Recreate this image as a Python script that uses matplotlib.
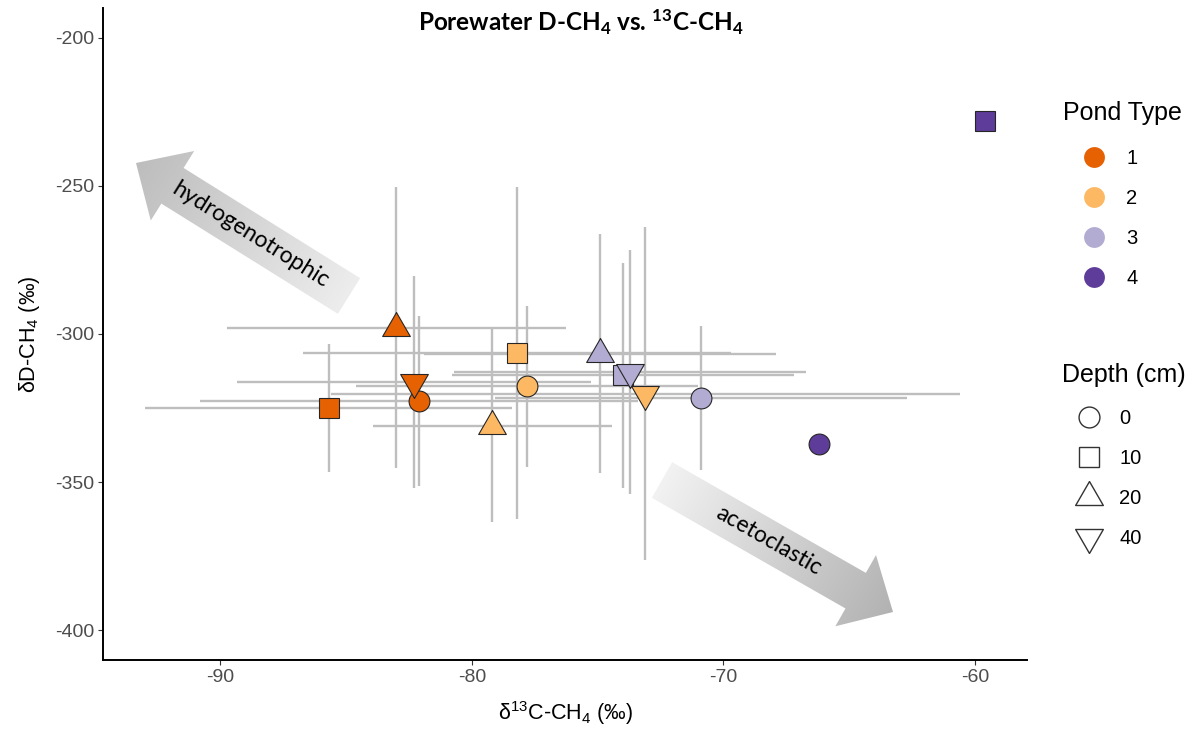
import numpy as np
import matplotlib.pyplot as plt
from matplotlib.lines import Line2D
from matplotlib.patches import Polygon
from matplotlib.colors import LinearSegmentedColormap

plt.rcParams['font.family'] = 'Liberation Sans'
plt.rcParams['axes.unicode_minus'] = False
plt.rcParams['mathtext.fontset'] = 'custom'
plt.rcParams['mathtext.rm'] = 'Liberation Sans'
plt.rcParams['mathtext.bf'] = 'Lato:bold'
plt.rcParams['mathtext.default'] = 'rm'

# porewater means and sd
pond = [1, 1, 1, 1, 2, 2, 2, 2, 3, 3, 3, 3, 4, 4]
depth = [0, 10, 20, 40, 0, 10, 20, 40, 0, 10, 20, 40, 0, 10]
d13c = [-82.1, -85.7, -83.0, -82.3, -77.8, -78.2, -79.2, -73.1,
        -70.9, -74.0, -74.9, -73.7, -66.2, -59.6]
d13c_sd = [8.7, 7.3, 6.75, 7.05, 6.8, 8.5, 4.75, 12.5,
           8.2, 6.8, 7.0, 7.0, np.nan, np.nan]
dD = [-322.6, -325.0, -297.9, -316.2, -317.6, -306.4, -330.9, -320.1,
      -321.6, -314.0, -306.6, -312.8, -337.2, -228.0]
dD_sd = [28.7, 21.6, 47.4, 35.8, 27.2, 55.9, 32.5, 56.2,
         24.2, 37.8, 40.2, 41.2, np.nan, np.nan]

pond_levels = [1, 2, 3, 4]
pond_colors = ['#E66101', '#FDB863', '#B2ABD2', '#5E3C99']
depth_levels = [0, 10, 20, 40]

# equilateral triangles centred on their centroid (like ggplot shapes 24/25)
tri_up = [(0, 0.577), (-0.5, -0.289), (0.5, -0.289), (0, 0.577)]
tri_dn = [(0, -0.577), (-0.5, 0.289), (0.5, 0.289), (0, -0.577)]
depth_marker = {0: ('o', 15), 10: ('s', 14), 20: (tri_up, 23), 40: (tri_dn, 23)}

fig = plt.figure(figsize=(12.02, 7.34), dpi=100)

# overlay in pixel units for the annotation arrows
ov = fig.add_axes([0, 0, 1, 1], zorder=0)
ax = fig.add_axes([103 / 1202, 74 / 734, 924 / 1202, 652 / 734], zorder=1)
ax.patch.set_alpha(0)

x = np.array(d13c)
y = np.array(dD)
xe = np.array(d13c_sd)
ye = np.array(dD_sd)
has = ~np.isnan(xe)

ax.errorbar(x[has], y[has], xerr=xe[has], yerr=ye[has], fmt='none',
            ecolor='#BEBEBE', elinewidth=1.7, capsize=0, zorder=1)

for d in depth_levels:
    m, ms = depth_marker[d]
    for p, c in zip(pond_levels, pond_colors):
        sel = (np.array(pond) == p) & (np.array(depth) == d)
        if sel.any():
            ax.plot(x[sel], y[sel], ls='none', marker=m, ms=ms, mfc=c,
                    mec='#262626', mew=0.8, zorder=3)

lo = np.min(np.where(has, x - np.nan_to_num(xe), x))
hi = np.max(np.where(has, x + np.nan_to_num(xe), x))
pad = 0.05 * (hi - lo)
ax.set_xlim(lo - pad, hi + pad)
ax.set_ylim(-410, -190)
ax.set_xticks([-90, -80, -70, -60])
ax.set_yticks([-400, -350, -300, -250, -200])

for s in ['top', 'right']:
    ax.spines[s].set_visible(False)
for s in ['left', 'bottom']:
    ax.spines[s].set_linewidth(1.4)
    ax.spines[s].set_color('black')
ax.tick_params(length=3.5, width=0.8, color='#333333', labelcolor='#4D4D4D',
               labelsize=14, pad=3)

ax.set_xlabel(r'δ$^{13}$C-CH$_4$ (‰)', fontsize=15.5)
ax.xaxis.set_label_coords(0.5, -0.06)
ax.set_ylabel(r'δD-CH$_4$ (‰)', fontsize=15.5)
ax.yaxis.set_label_coords(-0.066, 0.5)

fig.text(581 / 1202, 1 - 22 / 734,
         r'Porewater D-CH$_\mathbf{4}$ vs. $^\mathbf{13}$C-CH$_\mathbf{4}$',
         fontfamily='Lato', fontweight='bold', fontsize=17.5,
         ha='center', va='center')


def grad_arrow(axo, tail, tip, body, head, head_len, c0, c1, label):
    tail = np.array(tail, float)
    tip = np.array(tip, float)
    d = tip - tail
    L = np.hypot(*d)
    u = d / L
    n = np.array([-u[1], u[0]])
    base = tip - u * head_len
    pts = np.array([tail + n * body / 2, base + n * body / 2, base + n * head / 2,
                    tip, base - n * head / 2, base - n * body / 2, tail - n * body / 2])
    poly = Polygon(pts, closed=True, facecolor='none', edgecolor='none')
    axo.add_patch(poly)
    x0, y0 = pts.min(axis=0) - 2
    x1, y1 = pts.max(axis=0) + 2
    gx, gy = np.meshgrid(np.linspace(x0, x1, 300), np.linspace(y0, y1, 300))
    t = ((gx - tail[0]) * u[0] + (gy - tail[1]) * u[1]) / L
    cmap = LinearSegmentedColormap.from_list('g', [c0, c1])
    im = axo.imshow(t, extent=(x0, x1, y1, y0), origin='upper', cmap=cmap,
                    vmin=0, vmax=1, interpolation='bilinear', aspect='auto')
    im.set_clip_path(poly)
    ang = np.degrees(np.arctan2(-d[1], d[0]))
    if ang > 90:
        ang -= 180
    if ang < -90:
        ang += 180
    cx, cy = tail + u * 0.46 * L
    axo.text(cx, cy, label, rotation=ang, rotation_mode='anchor',
             ha='center', va='center', fontfamily='Lato', fontsize=16.5, color='black')


grad_arrow(ov, (349, 296), (136, 163), 42, 82, 43, '#EDEDED', '#BDBDBD', 'hydrogenotrophic')
grad_arrow(ov, (662, 480), (893, 612), 41, 82, 43, '#F2F2F2', '#B2B2B2', 'acetoclastic')
ov.set_xlim(0, 1202)
ov.set_ylim(734, 0)
ov.axis('off')

# legends
pond_handles = [Line2D([], [], ls='none', marker='o', ms=15, mfc=c, mec=c, mew=0)
                for c in pond_colors]
fig.legend(pond_handles, [str(p) for p in pond_levels], loc='upper left',
           bbox_to_anchor=(1079 / 1202, 1 - 149 / 734), frameon=False, fontsize=14.5,
           handlelength=1.5, handletextpad=0.85, labelspacing=1.05,
           borderpad=0, borderaxespad=0)
fig.text(1063 / 1202, 1 - 113 / 734, 'Pond Type', fontsize=18, ha='left', va='center')

depth_handles = [Line2D([], [], ls='none', marker=depth_marker[d][0],
                        ms=depth_marker[d][1], mfc='white', mec='#333333', mew=1.0)
                 for d in depth_levels]
fig.legend(depth_handles, [str(d) for d in depth_levels], loc='upper left',
           bbox_to_anchor=(1074 / 1202, 1 - 409 / 734), frameon=False, fontsize=14.5,
           handlelength=1.5, handletextpad=0.75, labelspacing=1.05,
           borderpad=0, borderaxespad=0)
fig.text(1062 / 1202, 1 - 375 / 734, 'Depth (cm)', fontsize=18, ha='left', va='center')

fig.savefig('out.png', dpi=100, facecolor='white')
